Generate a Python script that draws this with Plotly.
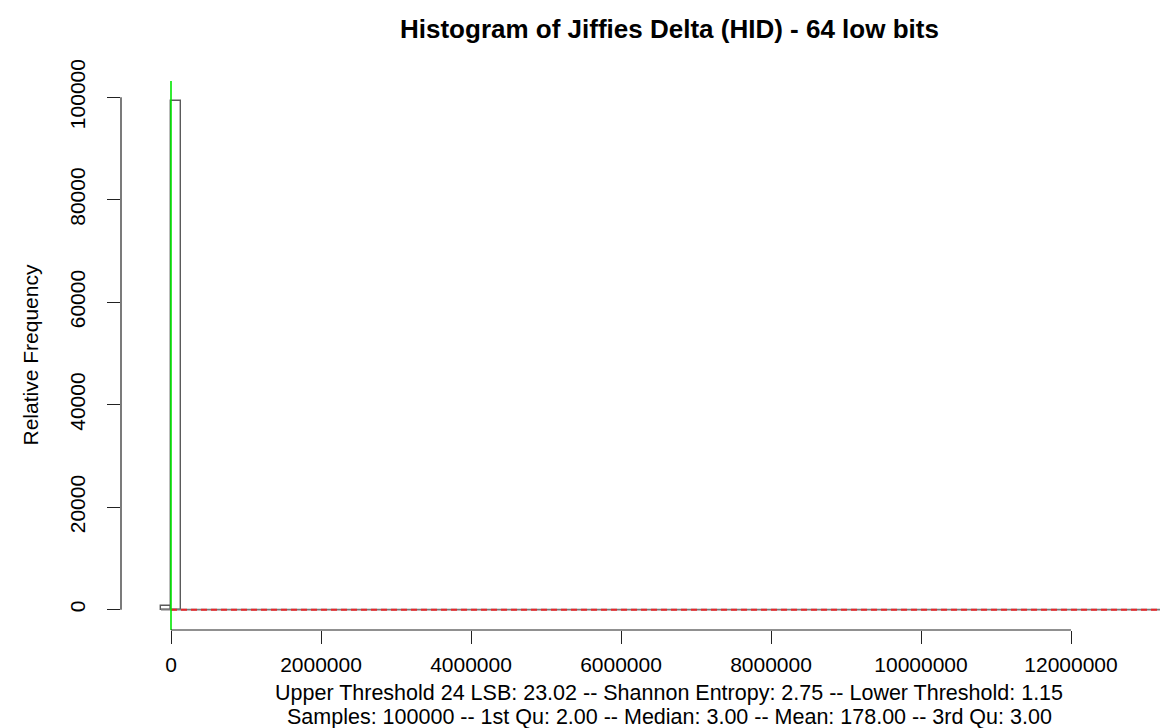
import plotly.graph_objects as go

# ---- data ----
bin_left_edges = [-134000, 0]
bin_counts = [800, 99200]
bin_width = 134000
data_x_max = 13400000
x_tick_values = [0, 2000000, 4000000, 6000000, 8000000, 10000000, 12000000]
x_tick_labels = ["0", "2000000", "4000000", "6000000", "8000000", "10000000", "12000000"]
y_tick_values = [0, 20000, 40000, 60000, 80000, 100000]
y_tick_labels = ["0", "20000", "40000", "60000", "80000", "100000"]
green_marker_x = 0
title_text = "Histogram of Jiffies Delta (HID) - 64 low bits"
sub_line1 = "Upper Threshold 24 LSB: 23.02 -- Shannon Entropy: 2.75 -- Lower Threshold: 1.15"
sub_line2 = "Samples: 100000 -- 1st Qu: 2.00 -- Median: 3.00 -- Mean: 178.00 -- 3rd Qu: 3.00"

FONT = "Liberation Sans, Arial, Helvetica, sans-serif"
TXT = "#000000"

centers = [e + bin_width / 2 for e in bin_left_edges]

fig = go.Figure()
# baseline of zero-height bins
fig.add_trace(go.Scatter(
    x=[bin_left_edges[0], data_x_max], y=[0, 0], mode="lines",
    line=dict(color="#7a7a7a", width=1.6), hoverinfo="skip", showlegend=False))
# histogram bars
fig.add_trace(go.Bar(
    x=centers, y=bin_counts, width=[bin_width] * len(centers),
    marker=dict(color="rgba(255,255,255,0)", line=dict(color="#5a5a5a", width=1.4)),
    showlegend=False))
# red dashed line
fig.add_trace(go.Scatter(
    x=[0, data_x_max], y=[0, 0], mode="lines",
    line=dict(color="#e8262a", width=2, dash="6px,4px"), hoverinfo="skip", showlegend=False))

fig.add_shape(type="line", xref="x", yref="paper", x0=green_marker_x, x1=green_marker_x,
              y0=0, y1=1, line=dict(color="#00e800", width=1.6), layer="above")
# R-style axis lines spanning only the tick range
fig.add_shape(type="line", xref="x", yref="paper", x0=x_tick_values[0], x1=x_tick_values[-1],
              y0=0, y1=0, line=dict(color="#222222", width=1.2))
fig.add_shape(type="line", xref="paper", yref="y", x0=0, x1=0,
              y0=y_tick_values[0], y1=y_tick_values[-1], line=dict(color="#222222", width=1.2))

W, H = 1168, 728
L, R, T, B = 113, 0, 73, 106
pw, ph = W - L - R, H - T - B

def px_to_paper_x(px):
    return (px - L) / pw

def py_to_paper_y(py):
    return (H - B - py) / ph

fig.add_annotation(text="<b>" + title_text + "</b>", xref="paper", yref="paper",
                   x=px_to_paper_x(661), y=py_to_paper_y(21), showarrow=False,
                   xanchor="center", yanchor="middle", font=dict(size=26, family=FONT, color=TXT))
fig.add_annotation(text=sub_line1, xref="paper", yref="paper",
                   x=px_to_paper_x(661), y=py_to_paper_y(685), showarrow=False, borderpad=0,
                   xanchor="center", yanchor="middle", font=dict(size=21.5, family=FONT, color=TXT))
fig.add_annotation(text=sub_line2, xref="paper", yref="paper",
                   x=px_to_paper_x(661), y=py_to_paper_y(709), showarrow=False, borderpad=0,
                   xanchor="center", yanchor="middle", font=dict(size=21.5, family=FONT, color=TXT))
fig.add_annotation(text="Relative Frequency", xref="paper", yref="paper",
                   x=px_to_paper_x(22), y=0.5, showarrow=False, textangle=-90,
                   xanchor="center", yanchor="middle", font=dict(size=21, family=FONT, color=TXT))

fig.update_layout(
    width=W, height=H, margin=dict(l=L, r=R, t=T, b=B, pad=0),
    paper_bgcolor="white", plot_bgcolor="white",
    font=dict(family=FONT, size=21, color=TXT),
    barmode="overlay", bargap=0,
    xaxis=dict(range=[-666667, 13400000], showgrid=False, zeroline=False, showline=False,
               tickmode="array", tickvals=x_tick_values, ticktext=x_tick_labels,
               ticks="outside", ticklen=13, tickwidth=1.2, tickcolor="#222222",
               ticklabelstandoff=3, tickfont=dict(size=21, family=FONT, color=TXT)),
    yaxis=dict(range=[-3968, 103168], showgrid=False, zeroline=False, showline=False,
               tickmode="array", tickvals=y_tick_values, ticktext=y_tick_labels,
               ticks="outside", ticklen=13, tickwidth=1.2, tickcolor="#222222",
               tickangle=-90, ticklabelstandoff=14, tickfont=dict(size=21, family=FONT, color=TXT)),
)

fig.write_html("out.html")
